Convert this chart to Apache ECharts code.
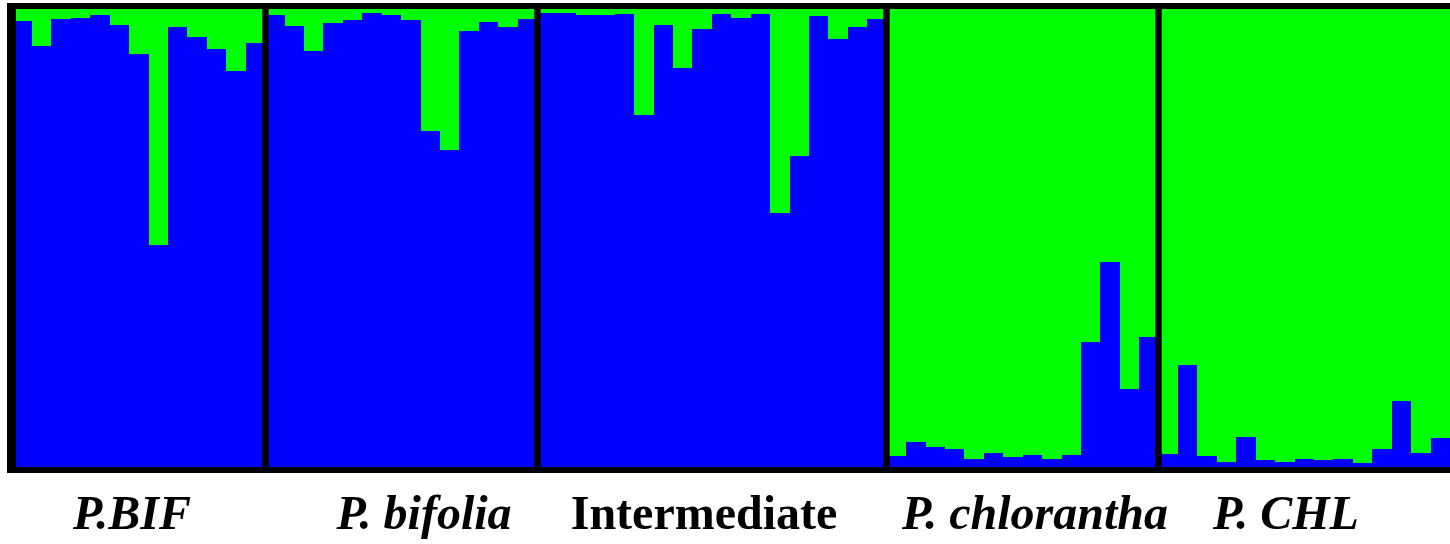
<!DOCTYPE html>
<html>
<head>
<meta charset="utf-8">
<script src="https://cdn.jsdelivr.net/npm/echarts@6/dist/echarts.min.js"></script>
<style>
  html, body { margin: 0; padding: 0; background: #ffffff; }
  #chart { width: 1450px; height: 544px; }
</style>
</head>
<body>
<div id="chart"></div>
<script>
// Populations, in plotting order
const groupNames  = ['P.BIF', 'P. bifolia', 'Intermediate', 'P. chlorantha', 'P. CHL'];
const groupItalic = [true, true, false, true, true];

// Membership in cluster 1 (blue) for each individual; cluster 2 (green) is the remainder
const qBIF = [0.974, 0.920, 0.978, 0.980, 0.987, 0.965, 0.902, 0.485, 0.961, 0.939, 0.913, 0.865, 0.926];
const qBifolia = [0.987, 0.963, 0.908, 0.969, 0.976, 0.991, 0.987, 0.976, 0.734, 0.692, 0.952, 0.972, 0.961, 0.978];
const qIntermediate = [0.991, 0.991, 0.987, 0.987, 0.989, 0.769, 0.965, 0.871, 0.956, 0.989, 0.980, 0.989, 0.555, 0.679, 0.985, 0.934, 0.961, 0.978];
const qChlorantha = [0.024, 0.055, 0.044, 0.039, 0.017, 0.031, 0.022, 0.026, 0.017, 0.026, 0.273, 0.448, 0.170, 0.284];
const qCHL = [0.028, 0.223, 0.024, 0.011, 0.066, 0.015, 0.011, 0.017, 0.015, 0.017, 0.009, 0.039, 0.144, 0.031, 0.063];

const groups = [qBIF, qBifolia, qIntermediate, qChlorantha, qCHL];

// Horizontal centre of each population label (px)
const labelCenters = [132, 424, 704, 1035, 1286];

const BLUE = '#0000ff';
const GREEN = '#00ff00';

const individuals = [];
const qRows = [];   // [index, cluster 1, cluster 2]
groups.forEach((g, gi) => {
  g.forEach((q, i) => {
    qRows.push([individuals.length, q, +(1 - q).toFixed(3)]);
    individuals.push(groupNames[gi] + ' ' + (i + 1));
  });
});
const total = individuals.length;

// Cumulative boundaries between populations
const boundaries = [];
let acc = 0;
groups.slice(0, -1).forEach(g => { acc += g.length; boundaries.push(acc); });

const chart = echarts.init(document.getElementById('chart'), null, { renderer: 'canvas' });

const frame = [
  { type: 'rect', shape: { x: 7, y: 3, width: 1443, height: 6 } },
  { type: 'rect', shape: { x: 7, y: 3, width: 9, height: 470 } },
  { type: 'rect', shape: { x: 7, y: 467, width: 1443, height: 6 } }
].map(r => Object.assign(r, { style: { fill: '#000' }, z: 10, silent: true }));

const labels = groupNames.map((name, i) => ({
  type: 'text',
  x: labelCenters[i],
  y: 517,
  z: 10,
  silent: true,
  style: {
    text: name,
    font: (groupItalic[i] ? 'italic ' : '') + 'bold 48px "Liberation Serif", "Times New Roman", serif',
    fill: '#000',
    align: 'center',
    verticalAlign: 'middle'
  }
}));

// Stacked membership column for one individual, snapped to whole pixels
function renderColumn(params, api) {
  const i = api.value(0);
  const q1 = api.value(1);
  const q2 = api.value(2);
  const base = api.coord([i, 0]);
  const mid = api.coord([i, q1]);
  const top = api.coord([i, q1 + q2]);
  const w = api.size([1, 0])[0];
  const x0 = Math.round(base[0] - w / 2);
  const x1 = Math.round(base[0] + w / 2);
  const yb = Math.round(base[1]);
  const ym = Math.round(mid[1]);
  const yt = Math.round(top[1]);
  return {
    type: 'group',
    children: [
      { type: 'rect', shape: { x: x0, y: ym, width: x1 - x0, height: yb - ym }, style: { fill: BLUE } },
      { type: 'rect', shape: { x: x0, y: yt, width: x1 - x0, height: ym - yt }, style: { fill: GREEN } }
    ]
  };
}

chart.setOption({
  backgroundColor: '#ffffff',
  animation: false,
  grid: { left: 12.6, top: 9, width: 1440.4, height: 458, containLabel: false },
  xAxis: [
    { type: 'category', data: individuals, show: false, boundaryGap: true },
    { type: 'value', min: 0, max: total, show: false }
  ],
  yAxis: { type: 'value', min: 0, max: 1, show: false },
  series: [
    {
      name: 'Membership', type: 'custom', data: qRows,
      encode: { x: 0, y: [1, 2] },
      renderItem: renderColumn,
      silent: true
    },
    {
      name: 'Population boundaries', type: 'line', xAxisIndex: 1, data: [],
      z: 5, silent: true,
      markLine: {
        silent: true,
        symbol: ['none', 'none'],
        label: { show: false },
        lineStyle: { color: '#000', width: 6.5, type: 'solid' },
        emphasis: { disabled: true },
        data: boundaries.map(b => ({ xAxis: b }))
      }
    }
  ],
  graphic: frame.concat(labels)
});
</script>
</body>
</html>
